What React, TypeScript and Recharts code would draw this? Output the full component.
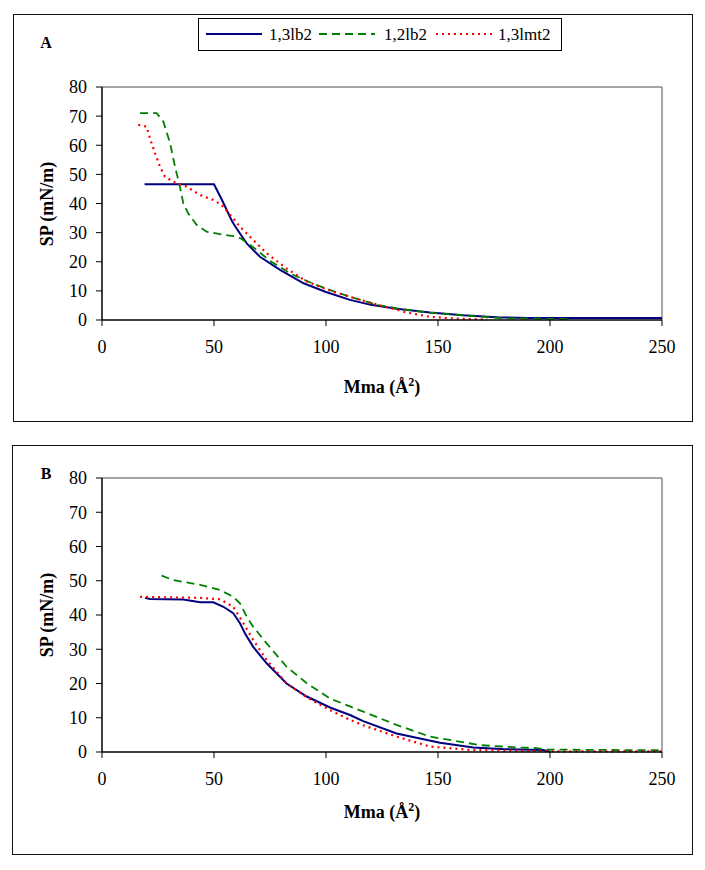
import React from 'react';
import { LineChart, Line, XAxis, YAxis, ReferenceLine } from 'recharts';

// Panel A – surface pressure vs molecular area
const mmaA_13lb2 = [19, 50, 54, 58, 60, 64.6, 70.5, 79.5, 90, 100, 110.7, 120, 131.5, 146.4, 161.3, 177.7, 190, 250];
const spA_13lb2 = [46.6, 46.6, 40.5, 34, 31.5, 26.3, 21.7, 17.2, 12.6, 9.6, 6.9, 5.2, 3.9, 2.6, 1.6, 0.9, 0.7, 0.7];

const mmaA_12lb2 = [17, 24.4, 27.4, 30.4, 32.6, 34.8, 36.3, 38.5, 42.3, 46.7, 52.7, 58.6, 62, 67.5, 75, 85, 95, 105, 115, 124, 135, 146.4, 164, 180, 209];
const spA_12lb2 = [71, 71, 68.1, 60.7, 52.6, 45.8, 40, 36.6, 32.6, 30.3, 29.5, 28.8, 28, 25, 20.3, 15.6, 12.2, 9.4, 7, 5, 3.6, 2.5, 1.4, 0.6, 0.3];

const mmaA_13lmt2 = [16.2, 19.9, 21.4, 23.7, 25.9, 28.1, 31.8, 37.8, 43.8, 49.7, 53.4, 58.6, 61.6, 67.5, 73.5, 82.4, 91.4, 103.3, 115, 125, 136, 146.4, 155, 164, 172];
const spA_13lmt2 = [67, 66.4, 62.4, 57.2, 52.6, 49.2, 47.5, 45.8, 42.9, 41.2, 39.5, 34.9, 32, 27.5, 22.9, 17.7, 13.2, 9.7, 7, 4.8, 2.6, 1.1, 0.6, 0.3, 0.2];

// Panel B
const mmaB_13lb2 = [19.2, 21.4, 36.3, 43.8, 49.7, 54.2, 58.6, 61.6, 63.8, 67.5, 73.5, 82.4, 91.4, 101.8, 110.7, 116.6, 131.5, 150.9, 165.8, 180, 196.9, 200];
const spB_13lb2 = [45, 44.7, 44.5, 43.7, 43.7, 42.4, 40.5, 37.6, 34.7, 30.7, 25.9, 20, 16.2, 13, 10.8, 9, 5.4, 2.7, 1.3, 0.8, 0.6, 0.1];

const mmaB_12lb2 = [26.6, 31.8, 43.8, 52.7, 58.6, 61.6, 64.6, 67.5, 73.5, 82.4, 91.4, 101.8, 110.7, 116.6, 131.5, 146.4, 168.8, 186.6, 193.3, 199, 250];
const spB_12lb2 = [51.5, 50.2, 48.8, 47.3, 45.3, 43.4, 39.5, 36.6, 31.7, 24.9, 20.1, 15.6, 13.3, 11.8, 7.9, 4.5, 2, 1.3, 1.2, 0.7, 0.5];

const mmaB_13lmt2 = [17, 43.8, 52.7, 58.6, 63.1, 67.5, 73.5, 82.4, 91.4, 101.8, 110.7, 116.6, 131.5, 146.4, 164.3, 200, 250];
const spB_13lmt2 = [45.3, 45, 44.6, 42.4, 37.6, 32.7, 26.9, 20, 16, 12.2, 9.4, 7.8, 4.5, 1.6, 0.6, 0.2, 0.2];

const xTicks = [0, 50, 100, 150, 200, 250];
const yTicks = [0, 10, 20, 30, 40, 50, 60, 70, 80];

const seriesNames = ['1,3lb2', '1,2lb2', '1,3lmt2'];

const toPoints = (xs: number[], ys: number[]) => xs.map((x, i) => ({ x, y: ys[i] }));

const styles = [
  { stroke: '#000080', strokeWidth: 2, dash: undefined as string | undefined },
  { stroke: '#008000', strokeWidth: 1.8, dash: '8 5' },
  { stroke: '#ff0000', strokeWidth: 2.2, dash: '2 4' },
];

const serif = 'Liberation Serif, DejaVu Serif, serif';
const tickStyle = { fontFamily: serif, fontSize: 18, fill: '#000' };

interface PanelProps {
  top: number;
  plotH: number;
  series: { x: number; y: number }[][];
}

function Panel({ top, plotH, series }: PanelProps) {
  const height = 430;
  const marginTop = 87;
  const xAxisH = 30;
  return (
    <div style={{ position: 'absolute', left: 0, top }}>
      <LineChart
        width={705}
        height={height}
        margin={{ top: marginTop, right: 43, bottom: height - marginTop - xAxisH - plotH, left: 0 }}
      >
        <XAxis
          type="number"
          dataKey="x"
          domain={[0, 250]}
          ticks={xTicks}
          height={xAxisH}
          stroke="#000"
          axisLine={{ stroke: '#000', strokeWidth: 1.5 }}
          tickLine={{ stroke: '#000' }}
          tickSize={6}
          tickMargin={14}
          tick={tickStyle}
          allowDataOverflow
        />
        <YAxis
          type="number"
          dataKey="y"
          domain={[0, 80]}
          ticks={yTicks}
          width={102}
          stroke="#000"
          axisLine={{ stroke: '#000', strokeWidth: 1.5 }}
          tickLine={{ stroke: '#000' }}
          tickSize={6}
          tickMargin={9}
          tick={tickStyle}
        />
        <ReferenceLine y={80} stroke="#888" strokeWidth={1.5} />
        <ReferenceLine x={250} stroke="#888" strokeWidth={1.5} />
        {series.map((d, i) => (
          <Line
            key={seriesNames[i]}
            name={seriesNames[i]}
            data={d}
            dataKey="y"
            type="linear"
            stroke={styles[i].stroke}
            strokeWidth={styles[i].strokeWidth}
            strokeDasharray={styles[i].dash}
            dot={false}
            isAnimationActive={false}
          />
        ))}
      </LineChart>
    </div>
  );
}

function LegendBox() {
  const items = [
    { x1: 7, tx: 70 },
    { x1: 120, tx: 185 },
    { x1: 237, tx: 299 },
  ];
  return (
    <div
      style={{
        position: 'absolute',
        left: 198,
        top: 18,
        width: 364,
        height: 33,
        border: '1.5px solid #000',
        boxSizing: 'border-box',
        background: '#fff',
      }}
    >
      <svg width={361} height={30}>
        {items.map((it, i) => (
          <g key={seriesNames[i]}>
            <line
              x1={it.x1}
              x2={it.x1 + 56}
              y1={15}
              y2={15}
              stroke={styles[i].stroke}
              strokeWidth={styles[i].strokeWidth}
              strokeDasharray={styles[i].dash}
            />
            <text x={it.tx} y={21} fontFamily={serif} fontSize={17} fill="#000">
              {seriesNames[i]}
            </text>
          </g>
        ))}
      </svg>
    </div>
  );
}

const textBase: React.CSSProperties = {
  position: 'absolute',
  fontFamily: serif,
  fontWeight: 'bold',
  color: '#000',
  whiteSpace: 'nowrap',
  transform: 'translate(-50%, -50%)',
};

function XTitle({ y }: { y: number }) {
  return (
    <div style={{ ...textBase, left: 382, top: y, fontSize: 18 }}>
      Mma (Å<sup style={{ fontSize: 12 }}>2</sup>)
    </div>
  );
}

function YTitle({ y }: { y: number }) {
  return (
    <div style={{ ...textBase, left: 47, top: y, fontSize: 18, transform: 'translate(-50%, -50%) rotate(-90deg)' }}>
      SP (mN/m)
    </div>
  );
}

export default function App() {
  const panelA = [
    toPoints(mmaA_13lb2, spA_13lb2),
    toPoints(mmaA_12lb2, spA_12lb2),
    toPoints(mmaA_13lmt2, spA_13lmt2),
  ];
  const panelB = [
    toPoints(mmaB_13lb2, spB_13lb2),
    toPoints(mmaB_12lb2, spB_12lb2),
    toPoints(mmaB_13lmt2, spB_13lmt2),
  ];

  return (
    <div style={{ position: 'absolute', left: 0, top: 0, width: 705, height: 870, background: '#fff' }}>
      <div style={{ position: 'absolute', left: 13, top: 14, width: 680, height: 408, border: '1.5px solid #111', boxSizing: 'border-box' }} />
      <div style={{ position: 'absolute', left: 12, top: 445, width: 681, height: 410, border: '1.5px solid #111', boxSizing: 'border-box' }} />

      <Panel top={0} plotH={233} series={panelA} />
      <Panel top={391} plotH={274} series={panelB} />

      <LegendBox />

      <div style={{ ...textBase, left: 46, top: 43, fontSize: 16 }}>A</div>
      <div style={{ ...textBase, left: 46, top: 474, fontSize: 16 }}>B</div>

      <YTitle y={204} />
      <YTitle y={615} />
      <XTitle y={386} />
      <XTitle y={811} />
    </div>
  );
}
